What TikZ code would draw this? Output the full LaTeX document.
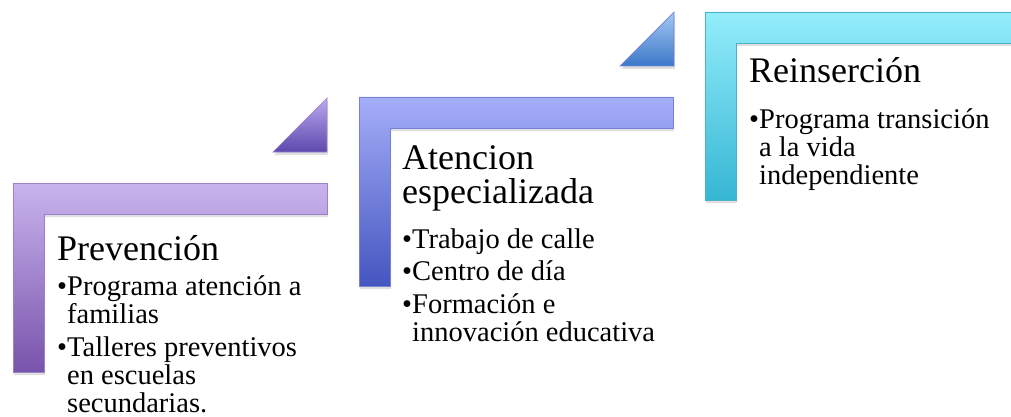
\documentclass[tikz,border=0pt]{standalone}
\usepackage{fontspec}
\setmainfont{Liberation Serif}
\usetikzlibrary{shadows}

\definecolor{prevtop}{HTML}{C9B4EE}
\definecolor{prevbot}{HTML}{7853AB}
\definecolor{prevline}{HTML}{9A82CA}
\definecolor{prevtritop}{HTML}{BBA9F0}
\definecolor{prevtribot}{HTML}{5C49AC}
\definecolor{atentop}{HTML}{A5AEF9}
\definecolor{atenbot}{HTML}{4455BF}
\definecolor{atenline}{HTML}{7682D6}
\definecolor{atentritop}{HTML}{A2C8F4}
\definecolor{atentribot}{HTML}{3C78C8}
\definecolor{reinstop}{HTML}{93EDFB}
\definecolor{reinsbot}{HTML}{36B6D4}
\definecolor{reinsline}{HTML}{4BB2CA}

\begin{document}
\begin{tikzpicture}[x=1pt, y=-1pt,
	stepshape/.style={line width=0.7pt,
		drop shadow={shadow xshift=1pt, shadow yshift=-3pt, opacity=0.25}},
	titletext/.style={anchor=base west, inner sep=0pt, align=left,
		font=\fontsize{36}{34}\selectfont},
	listtext/.style={anchor=base west, inner sep=0pt, align=left,
		font=\fontsize{28.5}{28}\selectfont}]
	
	\useasboundingbox (0,0) rectangle (1011,417);
	\clip (0,0) rectangle (1011,417);
	
	% step 1
	\path[stepshape, draw=prevline, top color=prevtop, bottom color=prevbot]
	(13,183) -- (327,183) -- (327,214) -- (44,214) -- (44,372) -- (13,372) -- cycle;
	\path[stepshape, draw=prevline, top color=prevtritop, bottom color=prevtribot]
	(327,98) -- (327,152) -- (273,152) -- cycle;
	
	% step 2
	\path[stepshape, draw=atenline, top color=atentop, bottom color=atenbot]
	(359,97) -- (673,97) -- (673,128) -- (390,128) -- (390,286) -- (359,286) -- cycle;
	\path[stepshape, draw=atenline, top color=atentritop, bottom color=atentribot]
	(674,12) -- (674,66) -- (620,66) -- cycle;
	
	% step 3
	\path[stepshape, draw=reinsline, top color=reinstop, bottom color=reinsbot]
	(705,12) -- (1020,12) -- (1020,43) -- (736,43) -- (736,200) -- (705,200) -- cycle;
	
	% texts (nodes sit on the baseline of their last line)
	\node[titletext] (prev) at (57,260) {Prevención};
	\node[listtext] (prevlist) at (57,412) {\textbullet Programa atención a\\
		\hphantom{\textbullet}familias\\[5pt]
		\textbullet Talleres preventivos\\
		\hphantom{\textbullet}en escuelas\\
		\hphantom{\textbullet}secundarias.};
	
	\node[titletext] (aten) at (402,203) {Atencion\\especializada};
	\node[listtext] (atenlist) at (402,341) {\textbullet Trabajo de calle\\[4.5pt]
		\textbullet Centro de día\\[4.5pt]
		\textbullet Formación e\\
		\hphantom{\textbullet}innovación educativa};
	
	\node[titletext] (reins) at (749,83) {Reinserción};
	\node[listtext] (reinslist) at (749,184) {\textbullet Programa transición\\
		\hphantom{\textbullet}a la vida\\
		\hphantom{\textbullet}independiente};
	
\end{tikzpicture}
\end{document}
